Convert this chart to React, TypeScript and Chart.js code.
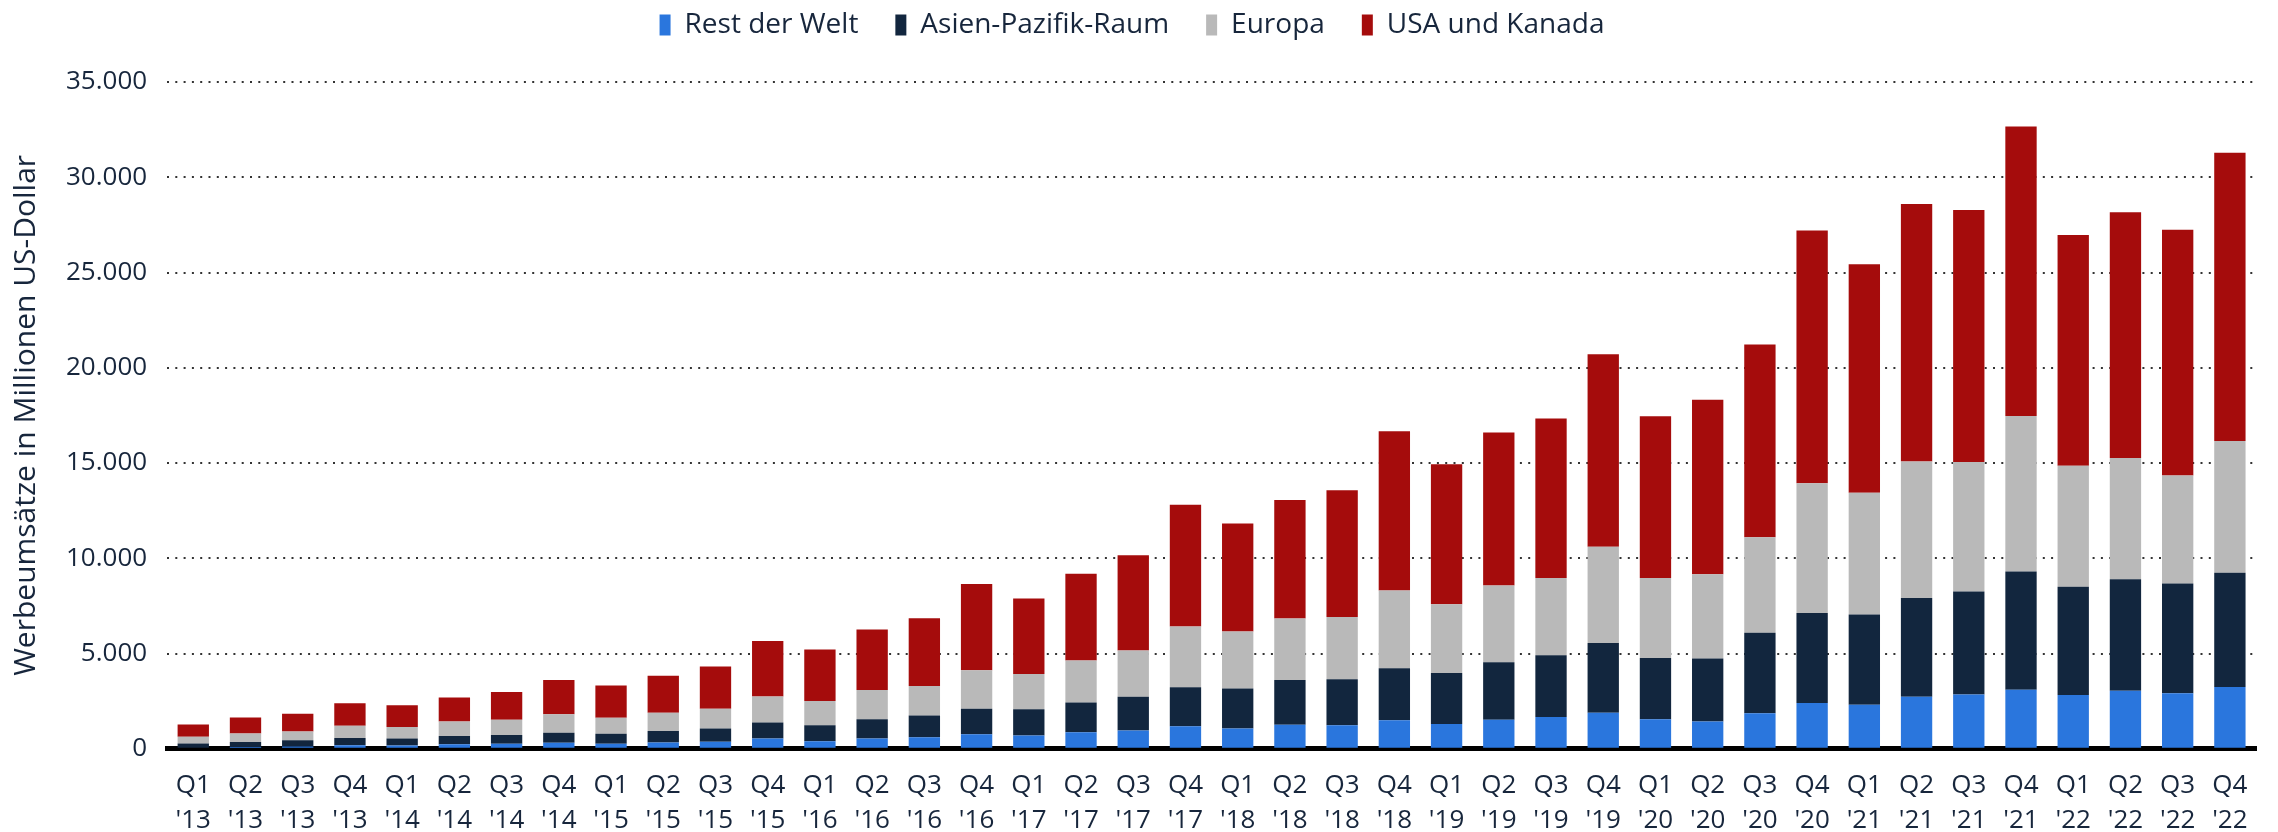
import React, { useEffect, useRef } from "react";
import { Chart, registerables } from "chart.js";

Chart.register(...registerables);

const quarters = ["Q1", "Q2", "Q3", "Q4"];
const years = ["13", "14", "15", "16", "17", "18", "19", "20", "21", "22"];
const categories: string[][] = [];
years.forEach((y) => quarters.forEach((q) => categories.push([q, "'" + y])));

const seriesNames = ["Rest der Welt", "Asien-Pazifik-Raum", "Europa", "USA und Kanada"];
const seriesColors = ["#2a76dd", "#12263e", "#b9b9b9", "#a50c0c"];

const restDerWelt = [60, 100, 120, 190, 170, 240, 260, 320, 270, 330, 375, 535, 390, 535, 605, 770, 695, 875, 965, 1180, 1070, 1265, 1230, 1500, 1300, 1520, 1670, 1890, 1550, 1430, 1870, 2410, 2310, 2730, 2850, 3100, 2830, 3050, 2920, 3240];
const asienPazifik = [220, 260, 330, 380, 370, 430, 470, 520, 520, 610, 695, 840, 840, 1015, 1140, 1335, 1375, 1550, 1765, 2050, 2090, 2340, 2425, 2730, 2680, 3020, 3240, 3660, 3220, 3310, 4220, 4720, 4740, 5180, 5410, 6210, 5670, 5850, 5750, 6000];
const europa = [350, 440, 460, 640, 610, 760, 790, 970, 840, 950, 1035, 1370, 1285, 1535, 1555, 2015, 1855, 2210, 2425, 3195, 3000, 3230, 3265, 4085, 3610, 4030, 4050, 5060, 4200, 4420, 5010, 6810, 6390, 7170, 6800, 8160, 6360, 6360, 5680, 6910];
const usaKanada = [650, 840, 930, 1180, 1140, 1260, 1460, 1800, 1690, 1940, 2210, 2910, 2695, 3175, 3550, 4530, 3960, 4550, 5000, 6385, 5670, 6225, 6655, 8350, 7350, 8030, 8380, 10100, 8480, 9160, 10120, 13270, 11990, 13510, 13220, 15190, 12110, 12900, 12900, 15130];

const yMax = 35000;
const yStep = 5000;
const yTitle = "Werbeumsätze in Millionen US-Dollar";

const textColor = "#17263c";
const fontFamily = "'Open Sans', sans-serif";

function fmt(v: number): string {
  return String(Math.round(v)).replace(/\B(?=(\d{3})+(?!\d))/g, ".");
}

const legendGap = {
  id: "legendGap",
  beforeInit(chart: any) {
    const legend = chart.legend;
    if (!legend) return;
    const orig = legend.fit;
    legend.fit = function () {
      orig.call(this);
      this.height += 33;
    };
  },
};

export default function App() {
  const ref = useRef<HTMLCanvasElement | null>(null);
  useEffect(() => {
    if (!ref.current) return;
    const values = [restDerWelt, asienPazifik, europa, usaKanada];
    const chart = new Chart(ref.current, {
      type: "bar",
      data: {
        labels: categories,
        datasets: values.map((d, i) => ({
          label: seriesNames[i],
          data: d,
          backgroundColor: seriesColors[i],
          borderWidth: 0,
          barPercentage: 0.6,
          categoryPercentage: 1,
        })),
      },
      plugins: [legendGap],
      options: {
        responsive: false,
        devicePixelRatio: 1,
        animation: false,
        layout: { padding: { left: 8, right: 22, top: -26, bottom: -17 } },
        plugins: {
          legend: {
            position: "top",
            labels: {
              boxWidth: 11,
              boxHeight: 21,
              padding: 37,
              color: textColor,
              font: { family: fontFamily, size: 28 },
            },
          },
          tooltip: { enabled: false },
        },
        scales: {
          x: {
            stacked: true,
            grid: { display: false },
            border: { display: true, color: "#000", width: 5 },
            ticks: {
              color: textColor,
              font: { family: fontFamily, size: 26, lineHeight: 1.35 },
              padding: 11,
              maxRotation: 0,
              autoSkip: false,
            },
          },
          y: {
            stacked: true,
            min: 0,
            max: yMax,
            ticks: {
              stepSize: yStep,
              color: textColor,
              font: { family: fontFamily, size: 26 },
              padding: 20,
              callback: (v: any) => fmt(Number(v)),
            },
            grid: {
              color: "#333",
              lineWidth: 2,
              drawTicks: false,
            },
            border: { display: false, dash: [2, 6.3] },
            title: {
              display: true,
              text: yTitle,
              color: textColor,
              font: { family: fontFamily, size: 30 },
              padding: { top: 0, bottom: 2 },
            },
          },
        },
      },
    });
    return () => chart.destroy();
  }, []);
  return (
    <div style={{ position: "fixed", left: 0, top: 0, width: 2278, height: 832, background: "#fff" }}>
      <canvas ref={ref} width={2278} height={832} style={{ display: "block" }} />
    </div>
  );
}
